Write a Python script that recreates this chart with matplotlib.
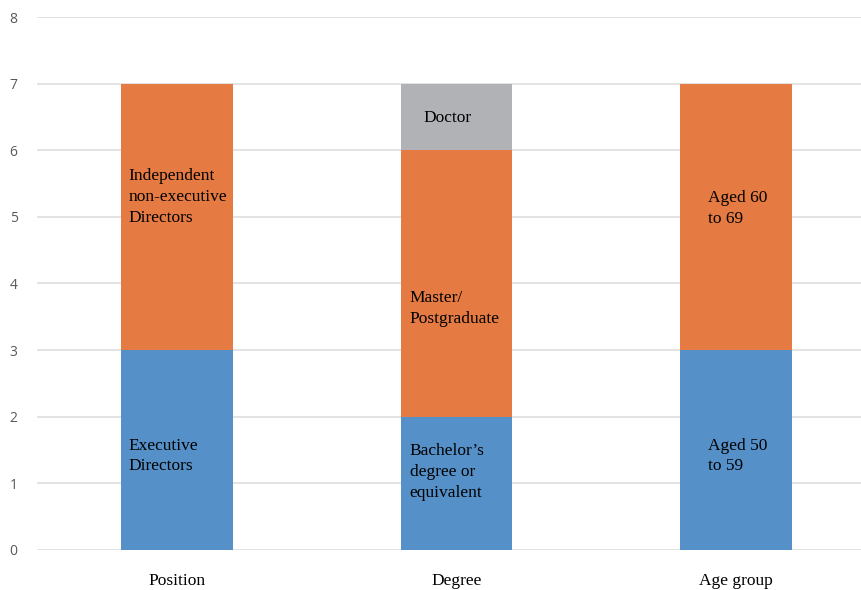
import matplotlib.pyplot as plt
import numpy as np

categories = ["Position", "Degree", "Age group"]
bottom_vals = [3, 2, 3]
middle_vals = [4, 4, 4]
top_vals = [0, 1, 0]

bottom_labels = ["Executive\nDirectors", "Bachelor\u2019s\ndegree or\nequivalent", "Aged 50\nto 59"]
middle_labels = ["Independent\nnon-executive\nDirectors", "Master/\nPostgraduate", "Aged 60\nto 69"]
top_labels = ["", "Doctor", ""]

# hand placed label heights (data units) and left offsets from bar edge
bottom_label_y = [1.41, 1.17, 1.41]
middle_label_y = [5.30, 3.63, 5.13]
top_label_y = [0, 6.49, 0]
label_dx = [0.028, 0.032, 0.10]
top_label_dx = [0, 0.08, 0]

blue = "#5591c8"
orange = "#e57a42"
gray = "#b1b2b6"
width = 0.4

fig = plt.figure(figsize=(8.62, 5.90), dpi=100)
ax = fig.add_axes([0.043, 0.068, 0.957, 0.903])

x = np.arange(len(categories))
b = np.array(bottom_vals)
m = np.array(middle_vals)
t = np.array(top_vals)
ax.bar(x, b, width, color=blue, zorder=2)
ax.bar(x, m, width, bottom=b, color=orange, zorder=2)
ax.bar(x, t, width, bottom=b + m, color=gray, zorder=2)

tfont = dict(family="Liberation Serif", fontsize=12.5, color="black", va="center", ha="left",
             linespacing=1.4, zorder=3)
for i in range(len(categories)):
    left = x[i] - width / 2
    ax.text(left + label_dx[i], bottom_label_y[i], bottom_labels[i], **tfont)
    ax.text(left + label_dx[i], middle_label_y[i], middle_labels[i], **tfont)
    if top_vals[i] > 0:
        ax.text(left + top_label_dx[i], top_label_y[i], top_labels[i], **tfont)

ax.set_xlim(-0.5, 2.45)
ax.set_ylim(0, 8)
ax.set_yticks(range(0, 9))
ax.yaxis.grid(True, color="#dedede", linewidth=1.2, zorder=0)
ax.set_axisbelow(True)
for s in ax.spines.values():
    s.set_visible(False)
ax.tick_params(axis="both", length=0)
ax.tick_params(axis="y", labelsize=10, labelcolor="#595959", pad=14)
ax.set_xticks(x)
ax.set_xticklabels(categories, family="Liberation Serif", fontsize=12.5)
ax.tick_params(axis="x", pad=17)
for lbl in ax.get_yticklabels():
    lbl.set_family("Open Sans")

fig.savefig("out.png", dpi=100)
